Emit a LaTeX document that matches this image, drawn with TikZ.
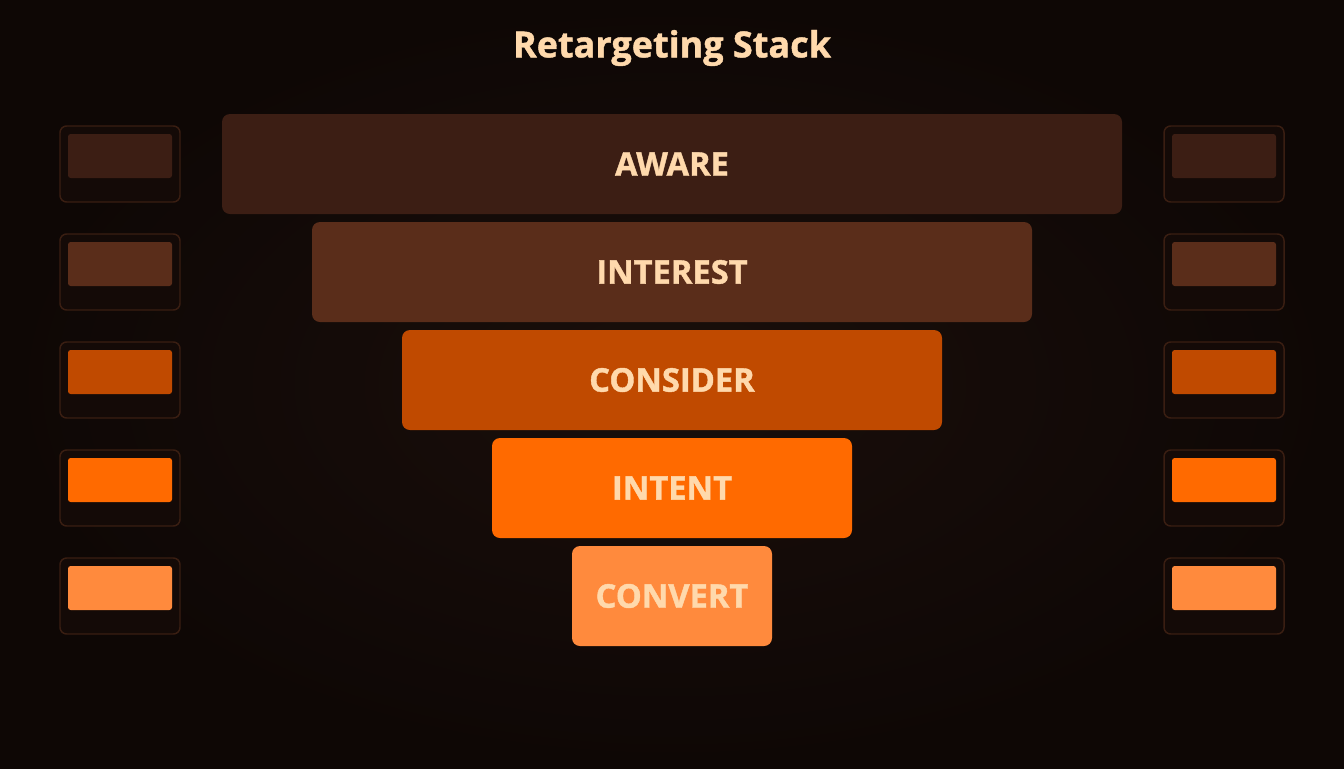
\documentclass[tikz,border=0pt]{standalone}
\usepackage{fontspec}
\setmainfont{Open Sans}[BoldFeatures={FakeBold=1.2}]
\definecolor{bgdark}{HTML}{0E0705}
\definecolor{bglight}{HTML}{1A0F0B}
\definecolor{txt}{HTML}{FFD9AC}
\definecolor{cA}{HTML}{3C1E14}
\definecolor{cB}{HTML}{5A2D1A}
\definecolor{cC}{HTML}{C04A00}
\definecolor{cD}{HTML}{FF6A00}
\definecolor{cE}{HTML}{FF8A3D}
\definecolor{sideborder}{HTML}{3A1E12}
\definecolor{sidefill}{HTML}{140A07}
\begin{document}
\begin{tikzpicture}[x=0.75pt,y=-0.75pt,
  bar/.style={rounded corners=6pt, inner sep=0pt, text=txt, font=\fontsize{24.5}{28}\selectfont\bfseries},
  sideouter/.style={draw=sideborder, line width=1.1pt, fill=sidefill, rounded corners=5pt, inner sep=0pt, minimum width=90pt, minimum height=57pt},
  sideinner/.style={rounded corners=2pt, inner sep=0pt, minimum width=78pt, minimum height=33pt}]
\shade[inner color=bglight, outer color=bgdark] (0,0) rectangle (1344,768);
\useasboundingbox (0,0) rectangle (1344,768);
\node[text=txt, font=\fontsize{27}{30}\selectfont\bfseries] (title) at (672,48) {Retargeting Stack};
\foreach \n/\x/\y/\w/\c/\t in {a/672/164/900/cA/AWARE, b/672/272/720/cB/INTEREST, c/672/380/540/cC/CONSIDER, d/672/488/360/cD/INTENT, e/672/596/200/cE/CONVERT}{
  \node[bar, fill=\c, minimum width=\w*0.75pt, minimum height=75pt] (\n) at (\x,\y) {\t};
  \node[sideouter] (l\n) at (120,\y) {};
  \node[sideinner, fill=\c] (li\n) at (120,\y-8) {};
  \node[sideouter] (r\n) at (1224,\y) {};
  \node[sideinner, fill=\c] (ri\n) at (1224,\y-8) {};
}
\end{tikzpicture}
\end{document}
